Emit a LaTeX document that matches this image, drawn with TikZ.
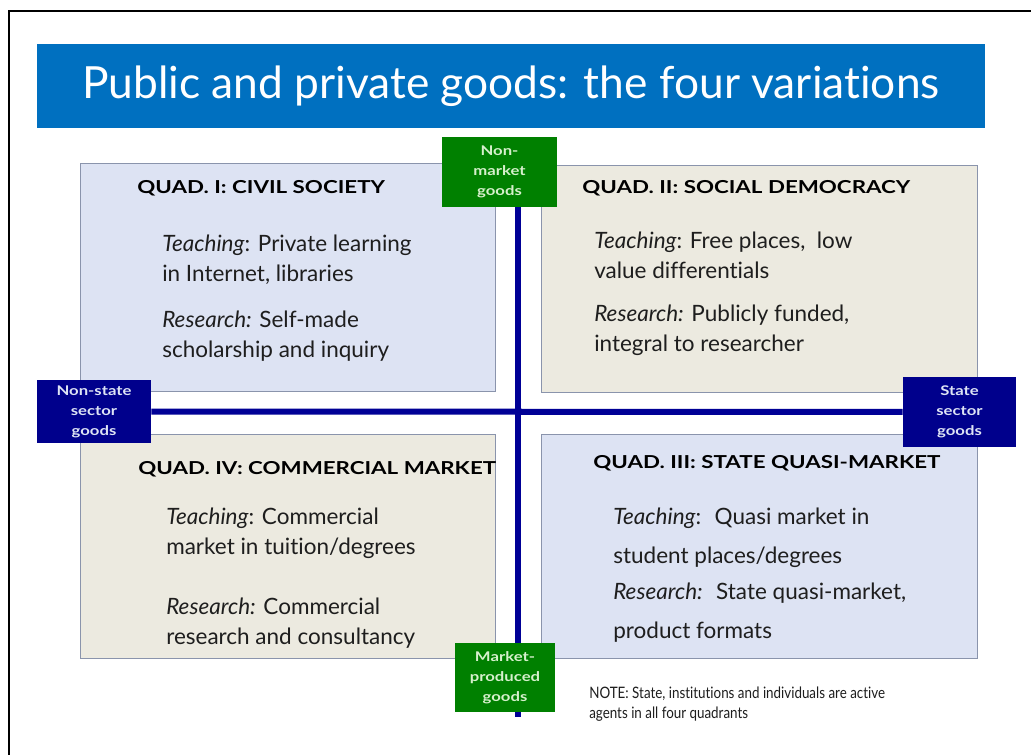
\documentclass[tikz,border=0pt]{standalone}
\usepackage{fontspec}
\setmainfont{Lato}[Ligatures=NoCommon]
\newfontfamily\notefont{Lato}[FakeStretch=0.85,Ligatures=NoCommon]
\newfontfamily\headfont{Lato}[FakeStretch=1.25,Ligatures=NoCommon]
\usepackage{xcolor}
\usetikzlibrary{shadows,backgrounds}

\definecolor{bannerblue}{RGB}{0,112,192}
\definecolor{quadblue}{RGB}{221,227,243}
\definecolor{quadbeige}{RGB}{236,234,224}
\definecolor{quadline}{RGB}{138,148,172}
\definecolor{tagnavy}{RGB}{0,0,140}
\definecolor{tagnavytext}{RGB}{222,228,245}
\definecolor{taggreen}{RGB}{0,128,0}
\definecolor{taggreentext}{RGB}{214,240,204}
\definecolor{axisnavy}{RGB}{0,0,150}
\definecolor{bodytext}{RGB}{30,30,30}

\begin{document}
\begin{tikzpicture}[x=0.025cm,y=-0.025cm,
  quad/.style={draw=quadline,line width=0.6pt,inner sep=0pt,
    drop shadow={shadow xshift=0.6pt,shadow yshift=-0.9pt,opacity=0.25}},
  cool/.style={quad,fill=quadblue}, warm/.style={quad,fill=quadbeige},
  qhead/.style={anchor=west,inner sep=0pt,text=black,font=\headfont\fontsize{12.7}{15}\selectfont\bfseries},
  qtext/.style={anchor=west,align=left,inner sep=0pt,text=bodytext,font=\fontsize{16}{21.3}\selectfont},
  tag/.style={inner sep=0pt,align=center,font=\headfont\fontsize{9.5}{14.2}\selectfont\bfseries},
  mkttag/.style={tag,fill=taggreen,text=taggreentext},
  sectag/.style={tag,fill=tagnavy,text=tagnavytext},
  axis/.style={draw=axisnavy,line width=0.15cm}]
\useasboundingbox (0,0) rectangle (1031,755);
% slide frame (left and top edges only)
\draw[line width=1.2pt] (9,755) |- (1031,11);

% title banner
\node[fill=bannerblue,text=white,minimum width=23.7cm,minimum height=2.1cm,inner sep=0pt,
  font=\fontsize{31.5}{34}\selectfont] (title) at (511,86) {Public and private goods: the four variations};

% the four quadrants
\node[cool,minimum width=10.375cm,minimum height=5.7cm] (q1) at (287.5,277) {};
\node[warm,minimum width=10.9cm,minimum height=5.675cm] (q2) at (759,278.5) {};
\node[warm,minimum width=10.375cm,minimum height=5.6cm] (q4) at (287.5,546) {};
\node[cool,minimum width=10.9cm,minimum height=5.6cm] (q3) at (759,546) {};

\node[qhead] (h1) at (137,188) {QUAD. I: CIVIL SOCIETY};
\node[qtext] (t1) at (162,260) {\textit{Teaching}: Private learning\\in Internet, libraries};
\node[qtext] (r1) at (162,336) {\textit{Research:} Self-made\\scholarship and inquiry};

\node[qhead] (h2) at (582,188) {QUAD. II: SOCIAL DEMOCRACY};
\node[qtext] (t2) at (594,255.5) {\textit{Teaching}: Free places,~ low\\value differentials};
\node[qtext] (r2) at (594,330) {\textit{Research:} Publicly funded,\\integral to researcher};

\node[qhead] (h4) at (138,469) {QUAD. IV: COMMERCIAL MARKET};
\node[qtext] (t4) at (166,533) {\textit{Teaching}: Commercial\\market in tuition/degrees};
\node[qtext] (r4) at (166,623) {\textit{Research:} Commercial\\research and consultancy};

\node[qhead] (h3) at (593,463) {QUAD. III: STATE QUASI-MARKET};
\node[qtext,font=\fontsize{16}{27.7}\selectfont] (t3) at (613,538) {\textit{Teaching}:~ Quasi market in\\student places/degrees};
\node[qtext,font=\fontsize{16}{27.7}\selectfont] (r3) at (613,612.5) {\textit{Research:}~ State quasi-market,\\product formats};

% goods tags on the two axes
\node[sectag,minimum width=2.85cm,minimum height=1.575cm] (nonstate) at (94,411.5) {Non-state\\sector\\goods};
\node[sectag,minimum width=2.825cm,minimum height=1.75cm] (state) at (959.5,412) {State\\sector\\goods};
\node[mkttag,minimum width=2.875cm,minimum height=1.75cm] (nonmkt) at (499.5,172) {Non-\\market\\goods};
\node[mkttag,minimum width=2.5cm,minimum height=1.725cm] (mkt) at (505,677.5) {Market-\\produced\\goods};
\coordinate (vtop) at (518,150);
\coordinate (vbot) at (518,717);

\node[anchor=west,align=left,inner sep=0pt,text=bodytext,font=\notefont\fontsize{11.2}{14.2}\selectfont] (note) at (589,704)
  {NOTE: State, institutions and individuals are active\\agents in all four quadrants};

% axes behind everything
\begin{scope}[on background layer]
\fill[white] (0,0) rectangle (1031,755);
\draw[axis] (vtop) -- (vbot);
\draw[axis] (nonstate) -- (state);
\end{scope}
\end{tikzpicture}
\end{document}
